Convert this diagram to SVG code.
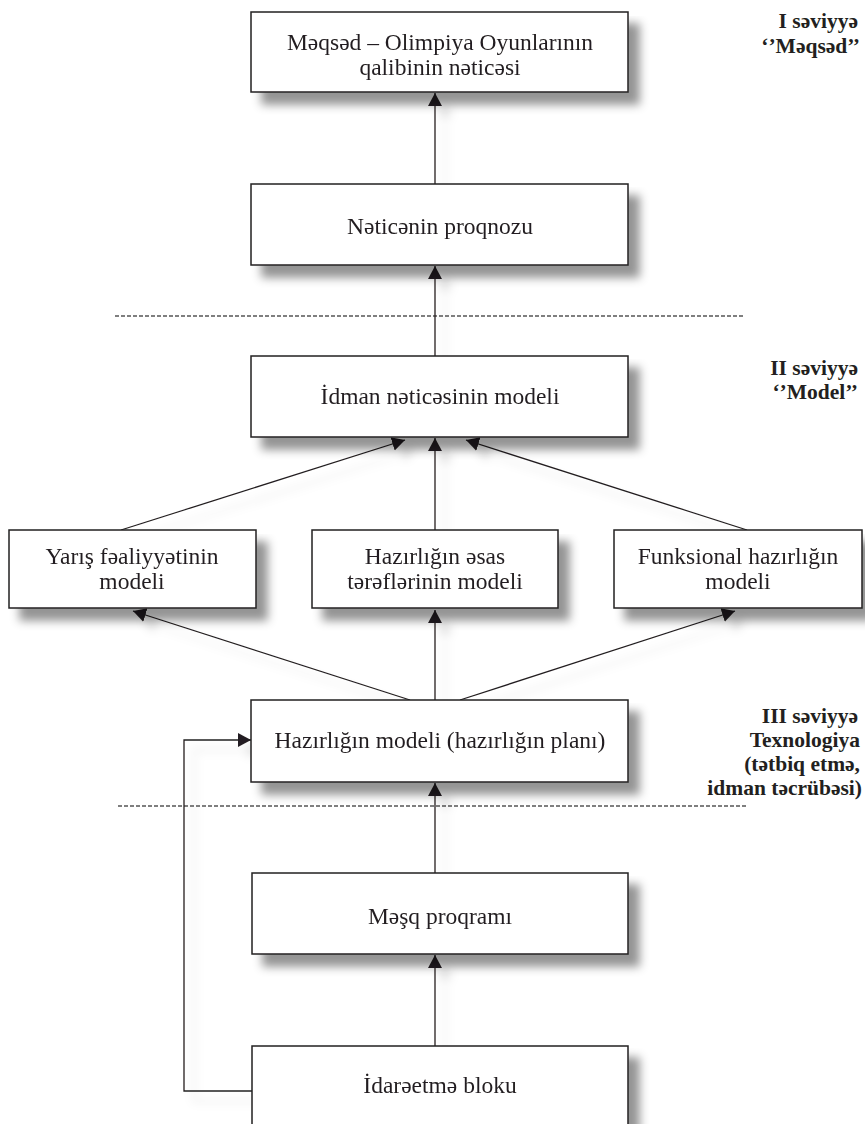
<svg xmlns="http://www.w3.org/2000/svg" width="865" height="1124" viewBox="0 0 865 1124">
<style>
.box{fill:#fff;stroke:#231f20;stroke-width:1.5}
.t{font-family:"Liberation Serif","Times New Roman",serif;font-size:23.5px;fill:#231f20;text-anchor:middle}
.lv{font-family:"Liberation Serif","Times New Roman",serif;font-size:21.5px;font-weight:bold;fill:#231f20;text-anchor:end}
.ln{fill:none;stroke:#231f20;stroke-width:1.3}
.dash{fill:none;stroke:#555;stroke-width:1.3;stroke-dasharray:4 2}
</style>
<defs>
<filter id="sh" x="-10%" y="-10%" width="130%" height="160%">
<feGaussianBlur in="SourceAlpha" stdDeviation="5"/>
<feOffset dx="11" dy="12" result="b"/>
<feFlood flood-color="#000" flood-opacity="0.42"/>
<feComposite in2="b" operator="in"/>
<feMerge><feMergeNode/><feMergeNode in="SourceGraphic"/></feMerge>
</filter>
<filter id="shl" x="-20%" y="-20%" width="140%" height="140%">
<feGaussianBlur in="SourceAlpha" stdDeviation="5"/>
<feOffset dx="10" dy="10" result="b"/>
<feFlood flood-color="#000" flood-opacity="0.14"/>
<feComposite in2="b" operator="in"/>
<feMerge><feMergeNode/><feMergeNode in="SourceGraphic"/></feMerge>
</filter>
<marker id="ah" markerWidth="16" markerHeight="16" refX="13" refY="8" orient="auto" markerUnits="userSpaceOnUse">
<path d="M0,1 L13,8 L0,15 Z" fill="#231f20"/>
</marker>
</defs>

<g id="dividers">
<line class="dash" x1="115" y1="316" x2="745" y2="316"/>
<line class="dash" x1="118" y1="806" x2="748" y2="806"/>
</g>

<g id="connectors" filter="url(#shl)">
<line class="ln" x1="435" y1="184" x2="435" y2="93" marker-end="url(#ah)"/>
<line class="ln" x1="435" y1="356" x2="435" y2="266" marker-end="url(#ah)"/>
<line class="ln" x1="435" y1="530" x2="435" y2="438" marker-end="url(#ah)"/>
<line class="ln" x1="121" y1="530" x2="405" y2="440" marker-end="url(#ah)"/>
<line class="ln" x1="747" y1="530" x2="466" y2="440" marker-end="url(#ah)"/>
<line class="ln" x1="435" y1="700" x2="435" y2="610" marker-end="url(#ah)"/>
<line class="ln" x1="410" y1="700" x2="133" y2="611" marker-end="url(#ah)"/>
<line class="ln" x1="460" y1="700" x2="735" y2="611" marker-end="url(#ah)"/>
<line class="ln" x1="435" y1="873" x2="435" y2="783" marker-end="url(#ah)"/>
<line class="ln" x1="435" y1="1046" x2="435" y2="955" marker-end="url(#ah)"/>
<polyline class="ln" points="252,1091 184,1091 184,740 251,740" marker-end="url(#ah)"/>
</g>

<g id="n1" filter="url(#sh)">
<rect class="box" x="251" y="12" width="377" height="80"/>
<text class="t" x="440" y="50">Məqsəd – Olimpiya Oyunlarının</text>
<text class="t" x="440" y="75">qalibinin nəticəsi</text>
</g>
<g id="n2" filter="url(#sh)">
<rect class="box" x="251" y="184" width="377" height="81"/>
<text class="t" x="440" y="234">Nəticənin proqnozu</text>
</g>
<g id="n3" filter="url(#sh)">
<rect class="box" x="251" y="356" width="377" height="81"/>
<text class="t" x="440" y="404">İdman nəticəsinin modeli</text>
</g>
<g id="n4" filter="url(#sh)">
<rect class="box" x="9" y="530" width="247" height="78"/>
<text class="t" x="132" y="564">Yarış fəaliyyətinin</text>
<text class="t" x="132" y="589">modeli</text>
</g>
<g id="n5" filter="url(#sh)">
<rect class="box" x="312" y="530" width="246" height="78"/>
<text class="t" x="435" y="564">Hazırlığın əsas</text>
<text class="t" x="435" y="589">tərəflərinin modeli</text>
</g>
<g id="n6" filter="url(#sh)">
<rect class="box" x="614" y="530" width="248" height="78"/>
<text class="t" x="738" y="564">Funksional hazırlığın</text>
<text class="t" x="738" y="589">modeli</text>
</g>
<g id="n7" filter="url(#sh)">
<rect class="box" x="251" y="700" width="377" height="82"/>
<text class="t" x="440" y="748">Hazırlığın modeli (hazırlığın planı)</text>
</g>
<g id="n8" filter="url(#sh)">
<rect class="box" x="252" y="873" width="376" height="81"/>
<text class="t" x="440" y="924">Məşq proqramı</text>
</g>
<g id="n9" filter="url(#sh)">
<rect class="box" x="252" y="1046" width="376" height="100"/>
<text class="t" x="440" y="1093">İdarəetmə bloku</text>
</g>

<g id="levels">
<text class="lv" x="858" y="28">I səviyyə</text>
<text class="lv" x="860" y="53">‘’Məqsəd’’</text>
<text class="lv" x="858" y="375">II səviyyə</text>
<text class="lv" x="858" y="399">‘’Model’’</text>
<text class="lv" x="858" y="723">III səviyyə</text>
<text class="lv" x="860" y="747">Texnologiya</text>
<text class="lv" x="860" y="771">(tətbiq etmə,</text>
<text class="lv" x="862" y="795">idman təcrübəsi)</text>
</g>
</svg>
